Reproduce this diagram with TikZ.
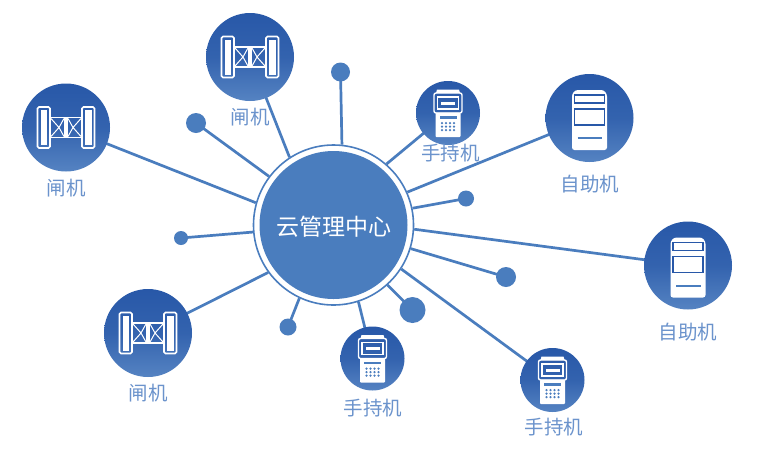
\documentclass[tikz,border=0pt]{standalone}
\usepackage{fontspec}
\newfontfamily\cjk{Noto Sans CJK SC}
\usetikzlibrary{backgrounds}
\definecolor{mainblue}{HTML}{4A7DBE}
\definecolor{topblue}{HTML}{2858A8}
\definecolor{botblue}{HTML}{5583C2}
\definecolor{labelblue}{HTML}{6B93CC}
\tikzset{
  x=1pt,y=-1pt,
  bigdev/.style={circle,inner sep=0pt,minimum size=88pt,top color=topblue,bottom color=botblue,middle color=topblue!75!botblue,draw=none},
  smalldev/.style={circle,inner sep=0pt,minimum size=64pt,top color=topblue,bottom color=botblue,middle color=topblue!75!botblue,draw=none},
  hubring/.style={circle,inner sep=0pt,minimum size=160pt,fill=white,draw=mainblue,line width=1.6pt},
  hubcore/.style={circle,inner sep=0pt,minimum size=148pt,fill=mainblue,text=white},
  dot/.style={circle,inner sep=0pt,fill=mainblue,draw=none},
  link/.style={draw=mainblue,line width=2.7pt},
  devlabel/.style={text=labelblue,font=\cjk\fontsize{19.5}{21}\selectfont,inner sep=0pt},
  ic/.style={draw=white,line width=1.6pt},
  gate/.pic={
    \draw[ic,rounded corners=1.5pt] (-28.5,-20.5) rectangle (-16,20.5);
    \fill[white] (-25.5,-17.5) rectangle (-19,17.5);
    \draw[ic,rounded corners=1.5pt] (16,-20.5) rectangle (28.5,20.5);
    \fill[white] (19,-17.5) rectangle (25.5,17.5);
    \draw[ic,line width=1.4pt] (-16,-10) rectangle (-1,10);
    \draw[ic,line width=1.4pt] (1,-10) rectangle (16,10);
    \draw[ic,line width=1pt] (-15,-9) -- (-7,0) -- (-15,9) (-2,-9) -- (-7,0) -- (-2,9);
    \draw[ic,line width=1pt] (15,-9) -- (7,0) -- (15,9) (2,-9) -- (7,0) -- (2,9);
  },
  handset/.pic={
    \fill[white] (-11,-23.5) -- (11,-23.5) -- (12,-20) -- (-12,-20) -- cycle;
    \draw[ic,rounded corners=2pt,line width=1.4pt] (-14,-20) rectangle (14,0);
    \draw[ic,line width=1.1pt] (-10.5,-16) rectangle (10.5,-4);
    \fill[white] (-7,-11.5) rectangle (7,-8.5);
    \fill[white,rounded corners=1pt] (-12.5,-0.5) rectangle (12.5,24);
    \fill[mainblue] (-8.5,3) rectangle (8.5,5.5);
    \foreach \kx in {-6,-2,2,6} \foreach \ky in {10,13.5,17} \fill[mainblue] (\kx,\ky) circle (1.25pt);
  },
  kiosk/.pic={
    \fill[white,rounded corners=2.5pt] (-14,-28) -- (14,-28) -- (17.5,-24) -- (17.5,32) -- (-17.5,32) -- (-17.5,-24) -- cycle;
    \draw[draw=topblue,line width=1.3pt,fill=white] (-15,-23) rectangle (15,-15);
    \draw[draw=topblue,line width=1.3pt,fill=white] (-15,-9) rectangle (15,7);
    \draw[draw=mainblue,line width=2pt] (-12,20) -- (12.5,20);
  },
}
\begin{document}
\begin{tikzpicture}
\useasboundingbox (0,0) rectangle (760,451);
% devices
\node[bigdev] (g1) at (66,127.5) {};
\node[bigdev] (g2) at (250,57) {};
\node[bigdev] (g3) at (148,333) {};
\node[smalldev] (h1) at (448,113) {};
\node[smalldev] (h2) at (372.5,358.5) {};
\node[smalldev] (h3) at (552.5,380) {};
\node[bigdev] (k1) at (589.5,118) {};
\node[bigdev] (k2) at (688,265.5) {};
% dots
\node[dot,minimum size=20pt] (d1) at (196,123) {};
\node[dot,minimum size=19pt] (d2) at (340.5,72) {};
\node[dot,minimum size=16pt] (d3) at (466,198.5) {};
\node[dot,minimum size=20pt] (d4) at (506,277) {};
\node[dot,minimum size=26pt] (d5) at (412.5,310) {};
\node[dot,minimum size=17pt] (d6) at (288,327) {};
\node[dot,minimum size=14pt] (d7) at (181,238) {};
% hub
\node[hubring] (hub) at (333.5,225) {};
\node[hubcore] (core) at (333.5,225) {};
\node[text=white,font=\cjk\fontsize{23}{24}\selectfont,inner sep=0pt] (hubtext) at (333.5,227) {云管理中心};
% connectors
\begin{scope}[on background layer]
  \fill[white] (0,0) rectangle (760,451);
  \foreach \t/\a in {g1/164,g2/123,g3/-144.5,h1/49,h2/-72,h3/-33,k1/24.6,k2/-3.5,d1/143,d2/84,d3/12,d4/-17,d5/-48,d6/-115,d7/-175}
    \draw[link] (hub.\a) -- (\t.center);
\end{scope}
% icons
\pic at (g1.center) {gate};
\pic at (g2.center) {gate};
\pic at (g3.center) {gate};
\pic at (h1.center) {handset};
\pic at (h2.center) {handset};
\pic at (h3.center) {handset};
\pic at (k1.center) {kiosk};
\pic at (k2.center) {kiosk};
% labels
\node[devlabel] (lg1) at (66,188) {闸机};
\node[devlabel] (lg2) at (250,117) {闸机};
\node[devlabel] (lg3) at (148,393) {闸机};
\node[devlabel] (lh1) at (450.5,153) {手持机};
\node[devlabel] (lh2) at (373,408) {手持机};
\node[devlabel] (lh3) at (554,427) {手持机};
\node[devlabel] (lk1) at (590,184) {自助机};
\node[devlabel] (lk2) at (688,332) {自助机};
\end{tikzpicture}
\end{document}
